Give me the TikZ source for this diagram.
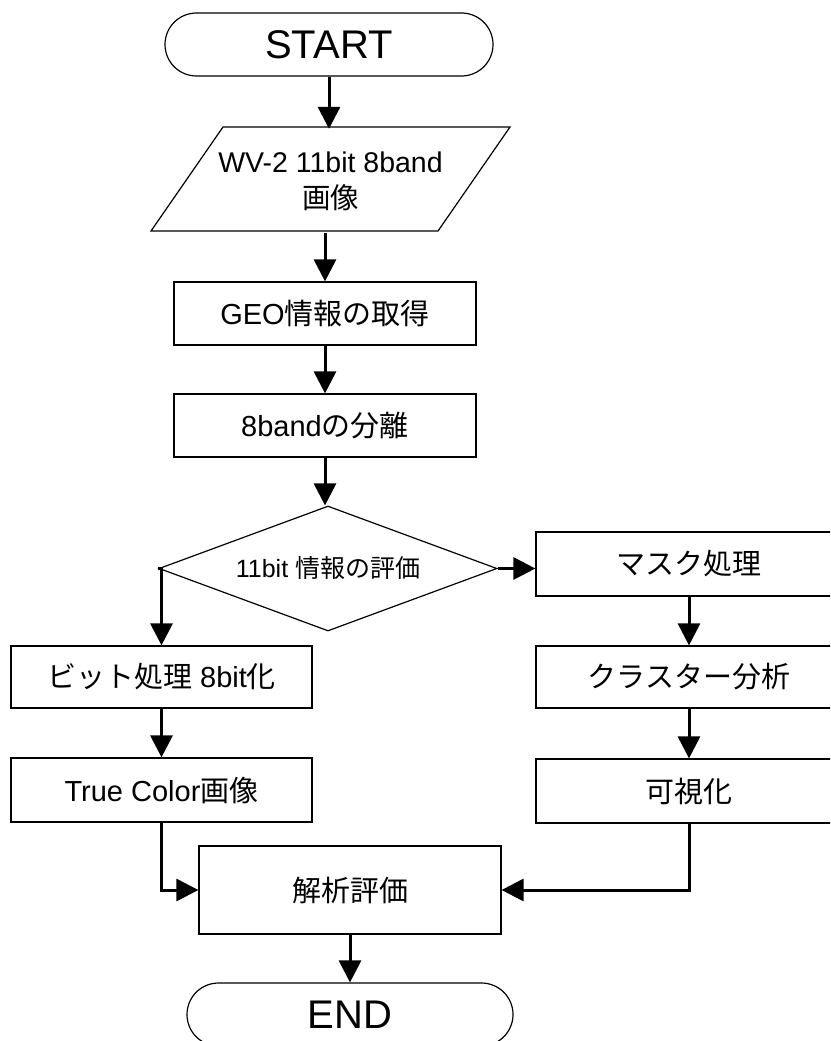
\documentclass[tikz,border=0pt]{standalone}
\usepackage{fontspec}
\setmainfont{Liberation Sans}
\newfontfamily\cjk{Noto Sans CJK JP}
\usetikzlibrary{arrows.meta,shapes.geometric,shapes.misc,calc}
\begin{document}
\begin{tikzpicture}[x=1pt,y=-1pt,
  box/.style={draw,line width=1.2pt,rectangle,inner sep=0pt,minimum height=63pt,font=\fontsize{29}{34}\selectfont},
  term/.style={draw,line width=1.2pt,rounded rectangle,inner sep=0pt,minimum width=328pt,minimum height=63pt,font=\fontsize{40}{46}\selectfont},
  decision/.style={draw,line width=1.2pt,diamond,aspect=2.704,inner sep=0pt,minimum width=338pt,minimum height=125pt,font=\fontsize{25}{29}\selectfont},
  flow/.style={line width=3pt,-{Triangle[length=22pt,width=22pt]}},
  outline/.style={line width=1.2pt,line join=miter}]
\clip (0,0) rectangle (830,1041);
\fill[white] (0,0) rectangle (830,1041);

\node[term] (start) at (329,44.5) {START};

\node[inner sep=0pt,minimum width=287pt,minimum height=104pt,align=center,
      font=\fontsize{28.5}{36}\selectfont] (in) at (330.5,181) {WV-2 11bit 8band\\{\cjk 画像}};
\draw[outline] ($(in.center)+(-107.5,-54)$) -- ($(in.center)+(179.5,-54)$)
   -- ($(in.center)+(107.5,50)$) -- ($(in.center)+(-179.5,50)$) -- cycle;

\node[box,minimum width=302pt] (geo) at (325,313.5) {GEO{\cjk 情報の取得}};
\node[box,minimum width=302pt] (sep) at (325,425.5) {8band{\cjk の分離}};
\node[decision] (dec) at (328,568.5) {11bit {\cjk 情報の評価}};

\node[box,minimum width=306pt,minimum height=64pt] (mask) at (689,564) {{\cjk マスク処理}};
\node[box,minimum width=306pt,minimum height=62pt] (clus) at (689,677) {{\cjk クラスター分析}};
\node[box,minimum width=306pt,minimum height=64pt] (vis) at (689,791) {{\cjk 可視化}};

\node[box,minimum width=301pt,minimum height=62pt] (bit) at (161.5,677) {{\cjk ビット処理} 8bit{\cjk 化}};
\node[box,minimum width=301pt,minimum height=64pt] (tc) at (161.5,790) {True Color{\cjk 画像}};

\node[box,minimum width=302pt,minimum height=88pt] (ana) at (350,890) {{\cjk 解析評価}};
\node[term,minimum width=326pt] (end) at (350,1014.5) {END};

\draw[flow] (start.south) -- (start.south |- in.north);
\draw[flow] (geo.north |- in.south) -- (geo.north);
\draw[flow] (geo.south) -- (sep.north);
\draw[flow] (sep.south) -- (sep.south |- dec.north);
\draw[flow] (dec.east) -- (dec.east -| mask.west);
\draw[flow] (dec.west) -| (bit.north);
\draw[flow] (mask.south) -- (clus.north);
\draw[flow] (clus.south) -- (vis.north);
\draw[flow] (bit.south) -- (tc.north);
\draw[flow] (tc.south) |- (ana.west);
\draw[flow] (vis.south) |- (ana.east);
\draw[flow] (ana.south) -- (end.north);
\end{tikzpicture}
\end{document}
